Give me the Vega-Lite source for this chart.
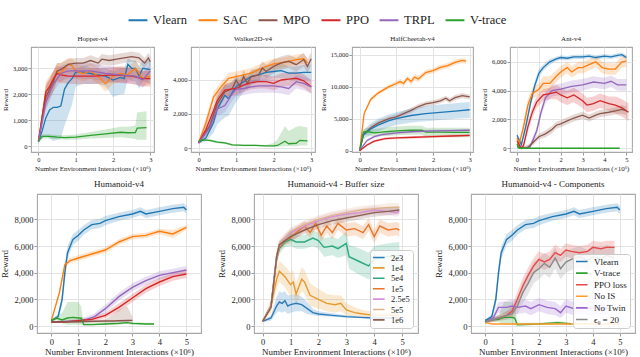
{
  "$schema": "https://vega.github.io/schema/vega-lite/v6.json",
  "padding": {"left": 0, "top": 12, "right": 2, "bottom": 0},
  "background": "white",
  "config": {
    "font": "Liberation Serif",
    "view": {"stroke": "#a8a8a8", "strokeWidth": 1.1},
    "axis": {"domain": false, "tickColor": "#999999", "tickSize": 3, "gridColor": "#e3e3e3", "gridWidth": 1, "labelColor": "#222222", "titleColor": "#222222", "titleFontWeight": "normal", "labelFont": "Liberation Serif", "titleFont": "Liberation Serif", "labelPadding": 1},
    "title": {"fontWeight": "normal", "font": "Liberation Serif", "color": "#222222", "offset": 5},
    "legend": {"labelFont": "Liberation Serif", "labelColor": "#222222"}
  },
  "datasets": {
    "legendrows": [{"s":"Vlearn","x":0,"y":0},{"s":"SAC","x":0,"y":0},{"s":"MPO","x":0,"y":0},{"s":"PPO","x":0,"y":0},{"s":"TRPL","x":0,"y":0},{"s":"V-trace","x":0,"y":0}],
    "hopper": [
      {"s":"Vlearn","x":0,"y":170,"l":120,"h":220},{"s":"Vlearn","x":0.1,"y":600,"l":300,"h":900},{"s":"Vlearn","x":0.2,"y":1100,"l":400,"h":1800},{"s":"Vlearn","x":0.3,"y":1400,"l":300,"h":2300},{"s":"Vlearn","x":0.4,"y":1500,"l":200,"h":2500},{"s":"Vlearn","x":0.5,"y":1500,"l":250,"h":2600},{"s":"Vlearn","x":0.6,"y":1550,"l":300,"h":2700},{"s":"Vlearn","x":0.7,"y":2200,"l":800,"h":2800},{"s":"Vlearn","x":0.8,"y":2450,"l":1200,"h":2900},{"s":"Vlearn","x":0.9,"y":2600,"l":1600,"h":2950},{"s":"Vlearn","x":1.0,"y":2850,"l":2300,"h":3000},{"s":"Vlearn","x":1.2,"y":2850,"l":2400,"h":3100},{"s":"Vlearn","x":1.4,"y":2800,"l":2400,"h":3050},{"s":"Vlearn","x":1.6,"y":2750,"l":2400,"h":3000},{"s":"Vlearn","x":1.8,"y":2700,"l":2300,"h":3000},{"s":"Vlearn","x":2.0,"y":2550,"l":1900,"h":2900},{"s":"Vlearn","x":2.2,"y":2650,"l":2000,"h":3000},{"s":"Vlearn","x":2.3,"y":2600,"l":2000,"h":3000},{"s":"Vlearn","x":2.4,"y":3150,"l":2600,"h":3400},{"s":"Vlearn","x":2.5,"y":3000,"l":2500,"h":3300},{"s":"Vlearn","x":2.6,"y":3000,"l":2500,"h":3300},{"s":"Vlearn","x":2.7,"y":2700,"l":2200,"h":3100},{"s":"Vlearn","x":2.8,"y":3000,"l":2500,"h":3300},{"s":"Vlearn","x":3.0,"y":2950,"l":2400,"h":3300},
      {"s":"SAC","x":0,"y":200,"l":150,"h":250},{"s":"SAC","x":0.2,"y":2100,"l":1700,"h":2500},{"s":"SAC","x":0.4,"y":2500,"l":2100,"h":2900},{"s":"SAC","x":0.5,"y":2900,"l":2500,"h":3200},{"s":"SAC","x":0.6,"y":2800,"l":2400,"h":3200},{"s":"SAC","x":0.7,"y":3000,"l":2600,"h":3300},{"s":"SAC","x":0.8,"y":3150,"l":2800,"h":3400},{"s":"SAC","x":0.9,"y":3100,"l":2800,"h":3400},{"s":"SAC","x":1.0,"y":2900,"l":2600,"h":3200},{"s":"SAC","x":1.2,"y":2800,"l":2500,"h":3100},{"s":"SAC","x":1.4,"y":2900,"l":2600,"h":3200},{"s":"SAC","x":1.6,"y":2700,"l":2400,"h":3000},{"s":"SAC","x":1.8,"y":2400,"l":2100,"h":2800},{"s":"SAC","x":2.0,"y":2700,"l":2400,"h":3000},{"s":"SAC","x":2.2,"y":2800,"l":2500,"h":3100},{"s":"SAC","x":2.4,"y":2750,"l":2450,"h":3050},{"s":"SAC","x":2.6,"y":3000,"l":2700,"h":3300},{"s":"SAC","x":2.8,"y":2600,"l":2300,"h":2900},{"s":"SAC","x":3.0,"y":2700,"l":2400,"h":3000},
      {"s":"MPO","x":0,"y":200,"l":150,"h":250},{"s":"MPO","x":0.2,"y":1900,"l":1500,"h":2300},{"s":"MPO","x":0.4,"y":2500,"l":2100,"h":2900},{"s":"MPO","x":0.5,"y":2900,"l":2600,"h":3200},{"s":"MPO","x":0.6,"y":2950,"l":2700,"h":3200},{"s":"MPO","x":0.8,"y":3150,"l":2950,"h":3350},{"s":"MPO","x":1.0,"y":3200,"l":3000,"h":3400},{"s":"MPO","x":1.2,"y":3200,"l":3000,"h":3400},{"s":"MPO","x":1.4,"y":3300,"l":3100,"h":3500},{"s":"MPO","x":1.6,"y":3200,"l":3000,"h":3400},{"s":"MPO","x":1.7,"y":3350,"l":3150,"h":3550},{"s":"MPO","x":1.9,"y":3300,"l":3100,"h":3500},{"s":"MPO","x":2.1,"y":3350,"l":3150,"h":3550},{"s":"MPO","x":2.3,"y":3400,"l":3200,"h":3600},{"s":"MPO","x":2.5,"y":3450,"l":3250,"h":3650},{"s":"MPO","x":2.7,"y":3400,"l":3200,"h":3600},{"s":"MPO","x":2.85,"y":3200,"l":3000,"h":3400},{"s":"MPO","x":2.95,"y":3400,"l":3200,"h":3600},{"s":"MPO","x":3.0,"y":3250,"l":3050,"h":3450},
      {"s":"PPO","x":0,"y":200,"l":150,"h":250},{"s":"PPO","x":0.2,"y":2100,"l":1800,"h":2400},{"s":"PPO","x":0.3,"y":2300,"l":2000,"h":2600},{"s":"PPO","x":0.4,"y":2600,"l":2300,"h":2900},{"s":"PPO","x":0.5,"y":2800,"l":2500,"h":3100},{"s":"PPO","x":0.6,"y":2750,"l":2450,"h":3050},{"s":"PPO","x":0.8,"y":2700,"l":2400,"h":3000},{"s":"PPO","x":1.0,"y":2700,"l":2400,"h":3000},{"s":"PPO","x":1.5,"y":2700,"l":2400,"h":3000},{"s":"PPO","x":2.0,"y":2750,"l":2450,"h":3050},{"s":"PPO","x":2.5,"y":2700,"l":2400,"h":3000},{"s":"PPO","x":2.8,"y":2600,"l":2300,"h":2900},{"s":"PPO","x":3.0,"y":2600,"l":2300,"h":2900},
      {"s":"TRPL","x":0,"y":200,"l":150,"h":250},{"s":"TRPL","x":0.2,"y":1700,"l":1400,"h":2000},{"s":"TRPL","x":0.4,"y":2400,"l":2100,"h":2700},{"s":"TRPL","x":0.6,"y":2800,"l":2500,"h":3100},{"s":"TRPL","x":0.8,"y":2900,"l":2600,"h":3200},{"s":"TRPL","x":1.0,"y":2900,"l":2600,"h":3200},{"s":"TRPL","x":1.4,"y":2900,"l":2600,"h":3200},{"s":"TRPL","x":1.8,"y":2800,"l":2500,"h":3100},{"s":"TRPL","x":2.2,"y":2750,"l":2450,"h":3050},{"s":"TRPL","x":2.6,"y":2700,"l":2400,"h":3000},{"s":"TRPL","x":2.8,"y":2550,"l":2250,"h":2850},{"s":"TRPL","x":3.0,"y":2900,"l":2600,"h":3200},
      {"s":"V-trace","x":0,"y":200,"l":150,"h":250},{"s":"V-trace","x":0.1,"y":380,"l":300,"h":460},{"s":"V-trace","x":0.3,"y":380,"l":300,"h":460},{"s":"V-trace","x":0.5,"y":350,"l":270,"h":430},{"s":"V-trace","x":0.7,"y":330,"l":250,"h":420},{"s":"V-trace","x":1.0,"y":350,"l":250,"h":450},{"s":"V-trace","x":1.4,"y":420,"l":300,"h":550},{"s":"V-trace","x":1.8,"y":480,"l":320,"h":650},{"s":"V-trace","x":2.2,"y":540,"l":350,"h":750},{"s":"V-trace","x":2.4,"y":520,"l":320,"h":750},{"s":"V-trace","x":2.6,"y":530,"l":280,"h":800},{"s":"V-trace","x":2.65,"y":700,"l":250,"h":1300},{"s":"V-trace","x":2.9,"y":720,"l":250,"h":1350}
    ],
    "walker": [
      {"s":"Vlearn","x":0,"y":300,"l":250,"h":350},{"s":"Vlearn","x":0.2,"y":600,"l":400,"h":800},{"s":"Vlearn","x":0.4,"y":1500,"l":900,"h":2200},{"s":"Vlearn","x":0.5,"y":2300,"l":1400,"h":3000},{"s":"Vlearn","x":0.6,"y":2700,"l":1600,"h":3400},{"s":"Vlearn","x":0.7,"y":3100,"l":1800,"h":3700},{"s":"Vlearn","x":0.8,"y":2900,"l":1900,"h":3700},{"s":"Vlearn","x":1.0,"y":3600,"l":2700,"h":4100},{"s":"Vlearn","x":1.2,"y":3900,"l":3300,"h":4300},{"s":"Vlearn","x":1.4,"y":4200,"l":3700,"h":4500},{"s":"Vlearn","x":1.6,"y":4300,"l":3900,"h":4700},{"s":"Vlearn","x":1.8,"y":4450,"l":4000,"h":4800},{"s":"Vlearn","x":2.0,"y":4500,"l":4100,"h":4900},{"s":"Vlearn","x":2.2,"y":4550,"l":4100,"h":5000},{"s":"Vlearn","x":2.4,"y":4400,"l":4000,"h":4800},{"s":"Vlearn","x":2.6,"y":4400,"l":4000,"h":4800},{"s":"Vlearn","x":2.8,"y":4450,"l":4000,"h":4900},{"s":"Vlearn","x":3.0,"y":4450,"l":4000,"h":4900},
      {"s":"SAC","x":0,"y":300,"l":250,"h":350},{"s":"SAC","x":0.2,"y":1500,"l":1200,"h":1800},{"s":"SAC","x":0.4,"y":3000,"l":2700,"h":3300},{"s":"SAC","x":0.6,"y":3600,"l":3300,"h":3900},{"s":"SAC","x":0.8,"y":4100,"l":3800,"h":4400},{"s":"SAC","x":1.0,"y":4200,"l":3900,"h":4500},{"s":"SAC","x":1.2,"y":4300,"l":4000,"h":4600},{"s":"SAC","x":1.4,"y":4400,"l":4100,"h":4700},{"s":"SAC","x":1.6,"y":4600,"l":4300,"h":4900},{"s":"SAC","x":1.8,"y":4800,"l":4500,"h":5100},{"s":"SAC","x":2.0,"y":4950,"l":4650,"h":5250},{"s":"SAC","x":2.2,"y":5000,"l":4700,"h":5300},{"s":"SAC","x":2.4,"y":5100,"l":4800,"h":5400},{"s":"SAC","x":2.6,"y":5200,"l":4900,"h":5500},{"s":"SAC","x":2.8,"y":5250,"l":4950,"h":5550},{"s":"SAC","x":2.9,"y":5000,"l":4700,"h":5300},
      {"s":"MPO","x":0,"y":300,"l":250,"h":350},{"s":"MPO","x":0.3,"y":1300,"l":1000,"h":1600},{"s":"MPO","x":0.5,"y":2600,"l":2200,"h":3000},{"s":"MPO","x":0.7,"y":3300,"l":2900,"h":3700},{"s":"MPO","x":0.9,"y":3500,"l":3100,"h":3900},{"s":"MPO","x":1.0,"y":4000,"l":3600,"h":4400},{"s":"MPO","x":1.1,"y":3600,"l":3200,"h":4000},{"s":"MPO","x":1.2,"y":4200,"l":3800,"h":4600},{"s":"MPO","x":1.3,"y":3800,"l":3400,"h":4200},{"s":"MPO","x":1.4,"y":4200,"l":3800,"h":4600},{"s":"MPO","x":1.6,"y":4300,"l":3900,"h":4700},{"s":"MPO","x":1.7,"y":4700,"l":4300,"h":5100},{"s":"MPO","x":1.8,"y":4500,"l":4100,"h":4900},{"s":"MPO","x":2.0,"y":4800,"l":4400,"h":5200},{"s":"MPO","x":2.2,"y":5000,"l":4600,"h":5400},{"s":"MPO","x":2.4,"y":5100,"l":4700,"h":5500},{"s":"MPO","x":2.6,"y":4900,"l":4500,"h":5300},{"s":"MPO","x":2.8,"y":5200,"l":4800,"h":5600},{"s":"MPO","x":2.9,"y":4800,"l":4400,"h":5200},{"s":"MPO","x":3.0,"y":5250,"l":4850,"h":5650},
      {"s":"PPO","x":0,"y":300,"l":250,"h":350},{"s":"PPO","x":0.2,"y":1100,"l":800,"h":1400},{"s":"PPO","x":0.4,"y":2200,"l":1800,"h":2600},{"s":"PPO","x":0.5,"y":2800,"l":2400,"h":3200},{"s":"PPO","x":0.7,"y":3400,"l":3000,"h":3800},{"s":"PPO","x":1.0,"y":3500,"l":3100,"h":3900},{"s":"PPO","x":1.2,"y":3700,"l":3300,"h":4100},{"s":"PPO","x":1.4,"y":3850,"l":3450,"h":4250},{"s":"PPO","x":1.6,"y":3900,"l":3500,"h":4300},{"s":"PPO","x":1.8,"y":3900,"l":3500,"h":4300},{"s":"PPO","x":2.0,"y":3800,"l":3400,"h":4200},{"s":"PPO","x":2.2,"y":4000,"l":3600,"h":4400},{"s":"PPO","x":2.4,"y":4050,"l":3650,"h":4450},{"s":"PPO","x":2.6,"y":4100,"l":3700,"h":4500},{"s":"PPO","x":2.8,"y":3950,"l":3550,"h":4350},{"s":"PPO","x":3.0,"y":3600,"l":3200,"h":4000},
      {"s":"TRPL","x":0,"y":300,"l":250,"h":350},{"s":"TRPL","x":0.3,"y":1200,"l":900,"h":1500},{"s":"TRPL","x":0.5,"y":2300,"l":1900,"h":2700},{"s":"TRPL","x":0.7,"y":2500,"l":2100,"h":2900},{"s":"TRPL","x":0.9,"y":3200,"l":2800,"h":3600},{"s":"TRPL","x":1.0,"y":3450,"l":3050,"h":3850},{"s":"TRPL","x":1.2,"y":3500,"l":3100,"h":3900},{"s":"TRPL","x":1.4,"y":3600,"l":3200,"h":4000},{"s":"TRPL","x":1.6,"y":3650,"l":3250,"h":4050},{"s":"TRPL","x":1.8,"y":3650,"l":3250,"h":4050},{"s":"TRPL","x":2.0,"y":3650,"l":3250,"h":4050},{"s":"TRPL","x":2.2,"y":3600,"l":3200,"h":4000},{"s":"TRPL","x":2.4,"y":3500,"l":3100,"h":3900},{"s":"TRPL","x":2.6,"y":3900,"l":3500,"h":4300},{"s":"TRPL","x":2.8,"y":3800,"l":3400,"h":4200},{"s":"TRPL","x":3.0,"y":3600,"l":3200,"h":4000},
      {"s":"V-trace","x":0,"y":400,"l":350,"h":450},{"s":"V-trace","x":0.1,"y":480,"l":430,"h":530},{"s":"V-trace","x":0.3,"y":450,"l":380,"h":520},{"s":"V-trace","x":0.5,"y":350,"l":280,"h":420},{"s":"V-trace","x":0.7,"y":300,"l":230,"h":370},{"s":"V-trace","x":0.9,"y":180,"l":120,"h":240},{"s":"V-trace","x":1.2,"y":150,"l":100,"h":200},{"s":"V-trace","x":1.5,"y":150,"l":100,"h":200},{"s":"V-trace","x":1.8,"y":120,"l":70,"h":170},{"s":"V-trace","x":2.0,"y":130,"l":70,"h":300},{"s":"V-trace","x":2.1,"y":150,"l":80,"h":500},{"s":"V-trace","x":2.3,"y":400,"l":100,"h":1300},{"s":"V-trace","x":2.4,"y":250,"l":100,"h":1000},{"s":"V-trace","x":2.6,"y":280,"l":100,"h":1250},{"s":"V-trace","x":2.7,"y":450,"l":150,"h":1300},{"s":"V-trace","x":2.9,"y":420,"l":150,"h":1200}
    ],
    "cheetah": [
      {"s":"SAC","x":0,"y":0,"l":0,"h":0},{"s":"SAC","x":0.12,"y":5800,"l":5500,"h":6100},{"s":"SAC","x":0.3,"y":8000,"l":7700,"h":8300},{"s":"SAC","x":0.5,"y":9000,"l":8700,"h":9300},{"s":"SAC","x":0.8,"y":10000,"l":9700,"h":10300},{"s":"SAC","x":1.0,"y":10500,"l":10100,"h":10900},{"s":"SAC","x":1.1,"y":10800,"l":10400,"h":11200},{"s":"SAC","x":1.2,"y":10500,"l":10000,"h":11000},{"s":"SAC","x":1.3,"y":11300,"l":10900,"h":11700},{"s":"SAC","x":1.4,"y":10800,"l":10300,"h":11300},{"s":"SAC","x":1.5,"y":11500,"l":11000,"h":12000},{"s":"SAC","x":1.6,"y":11200,"l":10700,"h":11700},{"s":"SAC","x":1.8,"y":12200,"l":11800,"h":12600},{"s":"SAC","x":2.0,"y":12500,"l":12100,"h":12900},{"s":"SAC","x":2.2,"y":13000,"l":12600,"h":13400},{"s":"SAC","x":2.4,"y":13300,"l":12900,"h":13700},{"s":"SAC","x":2.6,"y":13800,"l":13400,"h":14200},{"s":"SAC","x":2.8,"y":14100,"l":13700,"h":14500},{"s":"SAC","x":2.9,"y":14000,"l":13600,"h":14400},
      {"s":"MPO","x":0,"y":0,"l":0,"h":0},{"s":"MPO","x":0.1,"y":2500,"l":2200,"h":2800},{"s":"MPO","x":0.3,"y":3600,"l":3200,"h":4000},{"s":"MPO","x":0.5,"y":4300,"l":3900,"h":4700},{"s":"MPO","x":0.8,"y":5000,"l":4600,"h":5400},{"s":"MPO","x":1.0,"y":5300,"l":4900,"h":5700},{"s":"MPO","x":1.2,"y":5800,"l":5400,"h":6200},{"s":"MPO","x":1.4,"y":6300,"l":5900,"h":6700},{"s":"MPO","x":1.6,"y":6900,"l":6500,"h":7300},{"s":"MPO","x":1.8,"y":7300,"l":6900,"h":7700},{"s":"MPO","x":2.0,"y":7500,"l":7100,"h":7900},{"s":"MPO","x":2.2,"y":7800,"l":7400,"h":8200},{"s":"MPO","x":2.35,"y":8200,"l":7800,"h":8600},{"s":"MPO","x":2.45,"y":7800,"l":7400,"h":8200},{"s":"MPO","x":2.6,"y":8300,"l":7900,"h":8700},{"s":"MPO","x":2.8,"y":8600,"l":8200,"h":9000},{"s":"MPO","x":3.0,"y":8400,"l":8000,"h":8800},
      {"s":"Vlearn","x":0,"y":0,"l":0,"h":0},{"s":"Vlearn","x":0.1,"y":2500,"l":1800,"h":3200},{"s":"Vlearn","x":0.3,"y":3400,"l":2500,"h":4300},{"s":"Vlearn","x":0.5,"y":4000,"l":3000,"h":5000},{"s":"Vlearn","x":0.8,"y":4700,"l":3700,"h":5700},{"s":"Vlearn","x":1.0,"y":5000,"l":4000,"h":6000},{"s":"Vlearn","x":1.4,"y":5500,"l":4400,"h":6600},{"s":"Vlearn","x":1.8,"y":5800,"l":4600,"h":7000},{"s":"Vlearn","x":2.2,"y":6000,"l":4800,"h":7200},{"s":"Vlearn","x":2.6,"y":6200,"l":5000,"h":7400},{"s":"Vlearn","x":3.0,"y":6400,"l":5100,"h":7600},
      {"s":"V-trace","x":0,"y":0,"l":0,"h":0},{"s":"V-trace","x":0.1,"y":2900,"l":2400,"h":3400},{"s":"V-trace","x":0.2,"y":3000,"l":2400,"h":3600},{"s":"V-trace","x":0.4,"y":2800,"l":2200,"h":3400},{"s":"V-trace","x":0.6,"y":2900,"l":2300,"h":3500},{"s":"V-trace","x":0.8,"y":3000,"l":2300,"h":3700},{"s":"V-trace","x":1.0,"y":3100,"l":2400,"h":3800},{"s":"V-trace","x":1.4,"y":3200,"l":2500,"h":3900},{"s":"V-trace","x":1.7,"y":3200,"l":2500,"h":3900},{"s":"V-trace","x":1.8,"y":2900,"l":2200,"h":3600},{"s":"V-trace","x":2.2,"y":2900,"l":2200,"h":3600},{"s":"V-trace","x":2.6,"y":2850,"l":2100,"h":3600},{"s":"V-trace","x":3.0,"y":2850,"l":2100,"h":3600},
      {"s":"TRPL","x":0,"y":0,"l":0,"h":0},{"s":"TRPL","x":0.2,"y":1600,"l":1400,"h":1800},{"s":"TRPL","x":0.4,"y":2200,"l":2000,"h":2400},{"s":"TRPL","x":0.6,"y":2500,"l":2300,"h":2700},{"s":"TRPL","x":1.0,"y":2800,"l":2600,"h":3000},{"s":"TRPL","x":1.5,"y":3000,"l":2800,"h":3200},{"s":"TRPL","x":2.0,"y":3100,"l":2900,"h":3300},{"s":"TRPL","x":2.5,"y":3150,"l":2950,"h":3350},{"s":"TRPL","x":3.0,"y":3200,"l":3000,"h":3400},
      {"s":"PPO","x":0,"y":0,"l":0,"h":0},{"s":"PPO","x":0.2,"y":900,"l":700,"h":1100},{"s":"PPO","x":0.4,"y":1500,"l":1300,"h":1700},{"s":"PPO","x":0.7,"y":1900,"l":1700,"h":2100},{"s":"PPO","x":1.0,"y":2000,"l":1800,"h":2200},{"s":"PPO","x":1.5,"y":2100,"l":1900,"h":2300},{"s":"PPO","x":2.0,"y":2200,"l":2000,"h":2400},{"s":"PPO","x":2.5,"y":2300,"l":2100,"h":2500},{"s":"PPO","x":3.0,"y":2400,"l":2200,"h":2600}
    ],
    "ant": [
      {"s":"Vlearn","x":0,"y":900,"l":500,"h":1000},{"s":"Vlearn","x":0.2,"y":250,"l":100,"h":500},{"s":"Vlearn","x":0.4,"y":1500,"l":1200,"h":1800},{"s":"Vlearn","x":0.6,"y":3000,"l":2700,"h":3300},{"s":"Vlearn","x":0.8,"y":4300,"l":4000,"h":4600},{"s":"Vlearn","x":1.0,"y":5200,"l":4900,"h":5500},{"s":"Vlearn","x":1.2,"y":5600,"l":5400,"h":5800},{"s":"Vlearn","x":1.5,"y":6000,"l":5800,"h":6200},{"s":"Vlearn","x":1.8,"y":6200,"l":6050,"h":6350},{"s":"Vlearn","x":2.0,"y":6300,"l":6150,"h":6450},{"s":"Vlearn","x":2.3,"y":6250,"l":6100,"h":6400},{"s":"Vlearn","x":2.6,"y":6350,"l":6200,"h":6500},{"s":"Vlearn","x":3.0,"y":6350,"l":6200,"h":6500},{"s":"Vlearn","x":3.3,"y":6400,"l":6250,"h":6550},{"s":"Vlearn","x":3.6,"y":6300,"l":6150,"h":6450},{"s":"Vlearn","x":4.0,"y":6400,"l":6250,"h":6550},{"s":"Vlearn","x":4.3,"y":6350,"l":6200,"h":6500},{"s":"Vlearn","x":4.6,"y":6450,"l":6300,"h":6600},{"s":"Vlearn","x":4.8,"y":6500,"l":6350,"h":6650},{"s":"Vlearn","x":5.0,"y":6300,"l":6150,"h":6450},
      {"s":"SAC","x":0,"y":700,"l":400,"h":1000},{"s":"SAC","x":0.1,"y":300,"l":100,"h":500},{"s":"SAC","x":0.3,"y":1500,"l":1100,"h":1900},{"s":"SAC","x":0.5,"y":3000,"l":2600,"h":3400},{"s":"SAC","x":0.7,"y":3800,"l":3400,"h":4200},{"s":"SAC","x":1.0,"y":4100,"l":3700,"h":4500},{"s":"SAC","x":1.2,"y":4500,"l":4000,"h":5000},{"s":"SAC","x":1.5,"y":4500,"l":4000,"h":5000},{"s":"SAC","x":1.8,"y":5000,"l":4600,"h":5400},{"s":"SAC","x":2.0,"y":5300,"l":4900,"h":5700},{"s":"SAC","x":2.3,"y":5600,"l":5200,"h":6000},{"s":"SAC","x":2.5,"y":5300,"l":4900,"h":5700},{"s":"SAC","x":2.8,"y":5600,"l":5200,"h":6000},{"s":"SAC","x":3.0,"y":5600,"l":5200,"h":6000},{"s":"SAC","x":3.3,"y":5800,"l":5400,"h":6200},{"s":"SAC","x":3.6,"y":6000,"l":5600,"h":6400},{"s":"SAC","x":3.9,"y":5600,"l":5200,"h":6000},{"s":"SAC","x":4.2,"y":5500,"l":5100,"h":5900},{"s":"SAC","x":4.5,"y":5500,"l":5100,"h":5900},{"s":"SAC","x":4.8,"y":6000,"l":5600,"h":6400},{"s":"SAC","x":5.0,"y":6050,"l":5650,"h":6450},
      {"s":"TRPL","x":0,"y":100,"l":0,"h":200},{"s":"TRPL","x":0.3,"y":0,"l":0,"h":100},{"s":"TRPL","x":0.6,"y":100,"l":0,"h":300},{"s":"TRPL","x":0.9,"y":1200,"l":900,"h":1500},{"s":"TRPL","x":1.1,"y":2500,"l":2200,"h":2800},{"s":"TRPL","x":1.3,"y":3500,"l":3100,"h":3900},{"s":"TRPL","x":1.6,"y":4000,"l":3600,"h":4400},{"s":"TRPL","x":2.0,"y":4100,"l":3700,"h":4500},{"s":"TRPL","x":2.5,"y":4300,"l":3900,"h":4700},{"s":"TRPL","x":3.0,"y":4400,"l":4000,"h":4800},{"s":"TRPL","x":3.5,"y":4600,"l":4200,"h":5000},{"s":"TRPL","x":4.0,"y":4500,"l":4100,"h":4900},{"s":"TRPL","x":4.3,"y":4650,"l":4250,"h":5050},{"s":"TRPL","x":4.6,"y":4400,"l":4000,"h":4800},{"s":"TRPL","x":5.0,"y":4400,"l":4000,"h":4800},
      {"s":"PPO","x":0,"y":500,"l":200,"h":800},{"s":"PPO","x":0.2,"y":0,"l":0,"h":200},{"s":"PPO","x":0.3,"y":200,"l":0,"h":500},{"s":"PPO","x":0.5,"y":1500,"l":1100,"h":1900},{"s":"PPO","x":0.7,"y":2500,"l":2100,"h":2900},{"s":"PPO","x":0.9,"y":3200,"l":2800,"h":3600},{"s":"PPO","x":1.2,"y":3700,"l":3300,"h":4100},{"s":"PPO","x":1.5,"y":3800,"l":3400,"h":4200},{"s":"PPO","x":1.8,"y":3900,"l":3400,"h":4400},{"s":"PPO","x":2.0,"y":3700,"l":3200,"h":4200},{"s":"PPO","x":2.3,"y":3500,"l":3000,"h":4000},{"s":"PPO","x":2.6,"y":3700,"l":3200,"h":4200},{"s":"PPO","x":3.0,"y":3300,"l":2800,"h":3800},{"s":"PPO","x":3.2,"y":3000,"l":2500,"h":3500},{"s":"PPO","x":3.5,"y":3100,"l":2600,"h":3600},{"s":"PPO","x":3.8,"y":3300,"l":2800,"h":3800},{"s":"PPO","x":4.2,"y":3100,"l":2600,"h":3600},{"s":"PPO","x":4.5,"y":3000,"l":2400,"h":3600},{"s":"PPO","x":4.8,"y":2800,"l":2200,"h":3400},{"s":"PPO","x":5.1,"y":2500,"l":1900,"h":3100},
      {"s":"MPO","x":0,"y":200,"l":0,"h":400},{"s":"MPO","x":0.2,"y":0,"l":0,"h":150},{"s":"MPO","x":0.5,"y":50,"l":0,"h":200},{"s":"MPO","x":0.8,"y":500,"l":300,"h":700},{"s":"MPO","x":1.0,"y":800,"l":600,"h":1000},{"s":"MPO","x":1.3,"y":1000,"l":750,"h":1250},{"s":"MPO","x":1.6,"y":1300,"l":1050,"h":1550},{"s":"MPO","x":1.8,"y":1600,"l":1350,"h":1850},{"s":"MPO","x":2.0,"y":1700,"l":1450,"h":1950},{"s":"MPO","x":2.3,"y":1900,"l":1650,"h":2150},{"s":"MPO","x":2.6,"y":2100,"l":1850,"h":2350},{"s":"MPO","x":2.8,"y":2200,"l":1950,"h":2450},{"s":"MPO","x":3.0,"y":2300,"l":2050,"h":2550},{"s":"MPO","x":3.3,"y":2100,"l":1850,"h":2350},{"s":"MPO","x":3.6,"y":2300,"l":2050,"h":2550},{"s":"MPO","x":3.8,"y":2400,"l":2150,"h":2650},{"s":"MPO","x":4.2,"y":2500,"l":2250,"h":2750},{"s":"MPO","x":4.5,"y":2600,"l":2350,"h":2850},{"s":"MPO","x":4.8,"y":2700,"l":2400,"h":3000},{"s":"MPO","x":5.0,"y":2600,"l":2300,"h":2900},
      {"s":"V-trace","x":0,"y":300,"l":100,"h":500},{"s":"V-trace","x":0.1,"y":0,"l":0,"h":50},{"s":"V-trace","x":0.5,"y":0,"l":0,"h":30},{"s":"V-trace","x":1.0,"y":0,"l":0,"h":30},{"s":"V-trace","x":2.0,"y":0,"l":0,"h":30},{"s":"V-trace","x":3.0,"y":0,"l":0,"h":30},{"s":"V-trace","x":4.0,"y":0,"l":0,"h":30},{"s":"V-trace","x":4.7,"y":0,"l":0,"h":30}
    ],
    "humanoid": [
      {"s":"Vlearn","x":0,"y":400,"l":350,"h":450},{"s":"Vlearn","x":0.25,"y":700,"l":500,"h":900},{"s":"Vlearn","x":0.4,"y":2000,"l":1500,"h":2500},{"s":"Vlearn","x":0.5,"y":4000,"l":3400,"h":4600},{"s":"Vlearn","x":0.6,"y":5500,"l":5000,"h":6000},{"s":"Vlearn","x":0.8,"y":6500,"l":6100,"h":6900},{"s":"Vlearn","x":1.0,"y":6800,"l":6400,"h":7200},{"s":"Vlearn","x":1.2,"y":7200,"l":6850,"h":7550},{"s":"Vlearn","x":1.5,"y":7600,"l":7250,"h":7950},{"s":"Vlearn","x":1.8,"y":7700,"l":7350,"h":8050},{"s":"Vlearn","x":2.0,"y":7900,"l":7550,"h":8250},{"s":"Vlearn","x":2.5,"y":8200,"l":7900,"h":8500},{"s":"Vlearn","x":3.0,"y":8400,"l":8100,"h":8700},{"s":"Vlearn","x":3.3,"y":8600,"l":8300,"h":8900},{"s":"Vlearn","x":3.5,"y":8400,"l":8100,"h":8700},{"s":"Vlearn","x":4.0,"y":8600,"l":8300,"h":8900},{"s":"Vlearn","x":4.5,"y":8800,"l":8500,"h":9100},{"s":"Vlearn","x":4.9,"y":8900,"l":8600,"h":9200},{"s":"Vlearn","x":5.0,"y":8700,"l":8400,"h":9000},
      {"s":"SAC","x":0,"y":400,"l":350,"h":450},{"s":"SAC","x":0.3,"y":2500,"l":2300,"h":2700},{"s":"SAC","x":0.5,"y":4600,"l":4400,"h":4800},{"s":"SAC","x":0.7,"y":4900,"l":4700,"h":5100},{"s":"SAC","x":1.0,"y":5100,"l":4900,"h":5300},{"s":"SAC","x":1.5,"y":5400,"l":5200,"h":5600},{"s":"SAC","x":2.0,"y":5700,"l":5500,"h":5900},{"s":"SAC","x":2.5,"y":6300,"l":6100,"h":6500},{"s":"SAC","x":3.0,"y":6700,"l":6500,"h":6900},{"s":"SAC","x":3.5,"y":6800,"l":6600,"h":7000},{"s":"SAC","x":4.0,"y":7100,"l":6900,"h":7300},{"s":"SAC","x":4.5,"y":6900,"l":6600,"h":7200},{"s":"SAC","x":5.0,"y":7400,"l":7200,"h":7600},
      {"s":"TRPL","x":0,"y":300,"l":250,"h":350},{"s":"TRPL","x":0.5,"y":350,"l":300,"h":450},{"s":"TRPL","x":1.0,"y":400,"l":300,"h":550},{"s":"TRPL","x":1.3,"y":500,"l":350,"h":700},{"s":"TRPL","x":1.6,"y":700,"l":500,"h":950},{"s":"TRPL","x":2.0,"y":1300,"l":1000,"h":1600},{"s":"TRPL","x":2.5,"y":2200,"l":1900,"h":2500},{"s":"TRPL","x":3.0,"y":2900,"l":2600,"h":3200},{"s":"TRPL","x":3.5,"y":3400,"l":3100,"h":3700},{"s":"TRPL","x":4.0,"y":3800,"l":3500,"h":4100},{"s":"TRPL","x":4.5,"y":4000,"l":3700,"h":4300},{"s":"TRPL","x":5.0,"y":4200,"l":3900,"h":4500},
      {"s":"PPO","x":0,"y":300,"l":250,"h":350},{"s":"PPO","x":0.5,"y":300,"l":250,"h":350},{"s":"PPO","x":1.0,"y":400,"l":300,"h":500},{"s":"PPO","x":1.5,"y":500,"l":350,"h":650},{"s":"PPO","x":2.0,"y":800,"l":600,"h":1000},{"s":"PPO","x":2.5,"y":1400,"l":1100,"h":1700},{"s":"PPO","x":3.0,"y":2100,"l":1800,"h":2400},{"s":"PPO","x":3.5,"y":2800,"l":2500,"h":3100},{"s":"PPO","x":4.0,"y":3300,"l":3000,"h":3600},{"s":"PPO","x":4.5,"y":3700,"l":3400,"h":4000},{"s":"PPO","x":5.0,"y":3900,"l":3600,"h":4200},
      {"s":"MPO","x":0,"y":300,"l":250,"h":350},{"s":"MPO","x":1.0,"y":320,"l":250,"h":400},{"s":"MPO","x":2.0,"y":370,"l":250,"h":500},{"s":"MPO","x":2.3,"y":380,"l":250,"h":900},{"s":"MPO","x":2.5,"y":390,"l":250,"h":1200},{"s":"MPO","x":2.8,"y":410,"l":250,"h":1500},{"s":"MPO","x":3.0,"y":420,"l":250,"h":700},
      {"s":"V-trace","x":0,"y":400,"l":300,"h":500},{"s":"V-trace","x":0.2,"y":600,"l":450,"h":750},{"s":"V-trace","x":0.4,"y":450,"l":200,"h":1000},{"s":"V-trace","x":0.6,"y":600,"l":100,"h":1800},{"s":"V-trace","x":0.8,"y":650,"l":100,"h":1800},{"s":"V-trace","x":1.0,"y":600,"l":100,"h":1800},{"s":"V-trace","x":1.1,"y":600,"l":100,"h":1500},{"s":"V-trace","x":1.2,"y":100,"l":50,"h":250},{"s":"V-trace","x":1.5,"y":100,"l":50,"h":200},{"s":"V-trace","x":2.0,"y":150,"l":80,"h":250},{"s":"V-trace","x":2.5,"y":200,"l":100,"h":300},{"s":"V-trace","x":2.8,"y":250,"l":150,"h":350},{"s":"V-trace","x":3.0,"y":200,"l":100,"h":300},{"s":"V-trace","x":3.5,"y":150,"l":80,"h":250},{"s":"V-trace","x":3.8,"y":150,"l":80,"h":250}
    ],
    "buffer": [
      {"s":"2e3","x":0,"y":350,"l":300,"h":400},{"s":"2e3","x":0.3,"y":600,"l":400,"h":800},{"s":"2e3","x":0.5,"y":1500,"l":1000,"h":2200},{"s":"2e3","x":0.6,"y":1800,"l":1100,"h":2600},{"s":"2e3","x":0.7,"y":1700,"l":1000,"h":2500},{"s":"2e3","x":0.8,"y":1900,"l":1100,"h":2600},{"s":"2e3","x":0.9,"y":1500,"l":900,"h":2300},{"s":"2e3","x":1.0,"y":1600,"l":1000,"h":2300},{"s":"2e3","x":1.2,"y":1700,"l":1100,"h":2400},{"s":"2e3","x":1.4,"y":1600,"l":1100,"h":2200},{"s":"2e3","x":1.6,"y":1300,"l":900,"h":1800},{"s":"2e3","x":1.8,"y":1000,"l":800,"h":1300},{"s":"2e3","x":2.0,"y":900,"l":750,"h":1100},{"s":"2e3","x":2.5,"y":800,"l":700,"h":950},{"s":"2e3","x":3.0,"y":700,"l":620,"h":800},{"s":"2e3","x":3.5,"y":650,"l":580,"h":720},{"s":"2e3","x":4.0,"y":600,"l":540,"h":680},{"s":"2e3","x":4.5,"y":600,"l":540,"h":660},{"s":"2e3","x":4.9,"y":600,"l":540,"h":660},
      {"s":"1e4","x":0,"y":350,"l":300,"h":400},{"s":"1e4","x":0.3,"y":1500,"l":1000,"h":2000},{"s":"1e4","x":0.5,"y":3500,"l":2800,"h":4300},{"s":"1e4","x":0.6,"y":4100,"l":3300,"h":4900},{"s":"1e4","x":0.8,"y":3700,"l":2900,"h":4500},{"s":"1e4","x":1.0,"y":3100,"l":2200,"h":4000},{"s":"1e4","x":1.1,"y":3300,"l":2400,"h":4200},{"s":"1e4","x":1.2,"y":2400,"l":1600,"h":3200},{"s":"1e4","x":1.4,"y":3500,"l":2600,"h":4400},{"s":"1e4","x":1.5,"y":3300,"l":2400,"h":4200},{"s":"1e4","x":1.7,"y":2300,"l":1500,"h":3200},{"s":"1e4","x":2.0,"y":2000,"l":1300,"h":2800},{"s":"1e4","x":2.3,"y":1700,"l":1100,"h":2400},{"s":"1e4","x":2.6,"y":1600,"l":1000,"h":2300},{"s":"1e4","x":2.8,"y":1700,"l":1100,"h":2300},{"s":"1e4","x":3.0,"y":1200,"l":800,"h":1700},{"s":"1e4","x":3.3,"y":1000,"l":700,"h":1400},{"s":"1e4","x":3.6,"y":900,"l":650,"h":1200},{"s":"1e4","x":4.0,"y":800,"l":600,"h":1050},{"s":"1e4","x":4.5,"y":800,"l":600,"h":1000},{"s":"1e4","x":4.9,"y":800,"l":600,"h":1000},
      {"s":"5e4","x":0,"y":350,"l":300,"h":400},{"s":"5e4","x":0.3,"y":1500,"l":1300,"h":1700},{"s":"5e4","x":0.5,"y":5000,"l":4600,"h":5400},{"s":"5e4","x":0.6,"y":5800,"l":5400,"h":6200},{"s":"5e4","x":0.8,"y":6300,"l":5900,"h":6700},{"s":"5e4","x":1.0,"y":6500,"l":6000,"h":7000},{"s":"5e4","x":1.2,"y":6300,"l":5800,"h":6800},{"s":"5e4","x":1.5,"y":6300,"l":5800,"h":6800},{"s":"5e4","x":1.8,"y":6600,"l":6000,"h":7200},{"s":"5e4","x":2.0,"y":6400,"l":5800,"h":7000},{"s":"5e4","x":2.2,"y":5900,"l":5200,"h":6600},{"s":"5e4","x":2.5,"y":6000,"l":5300,"h":6700},{"s":"5e4","x":2.7,"y":5800,"l":5100,"h":6500},{"s":"5e4","x":3.0,"y":6200,"l":5300,"h":7100},{"s":"5e4","x":3.1,"y":5200,"l":4300,"h":6100},{"s":"5e4","x":3.5,"y":4800,"l":3800,"h":5800},{"s":"5e4","x":3.8,"y":4500,"l":3500,"h":5500},{"s":"5e4","x":4.0,"y":5000,"l":4000,"h":6000},{"s":"5e4","x":4.5,"y":5200,"l":4200,"h":6200},{"s":"5e4","x":4.9,"y":5300,"l":4300,"h":6300},
      {"s":"1e5","x":0,"y":350,"l":300,"h":400},{"s":"1e5","x":0.3,"y":1500,"l":1300,"h":1700},{"s":"1e5","x":0.5,"y":5000,"l":4700,"h":5300},{"s":"1e5","x":0.6,"y":5900,"l":5600,"h":6200},{"s":"1e5","x":0.8,"y":6400,"l":6100,"h":6700},{"s":"1e5","x":1.0,"y":6600,"l":6200,"h":7000},{"s":"1e5","x":1.2,"y":7000,"l":6600,"h":7400},{"s":"1e5","x":1.5,"y":7500,"l":7100,"h":7900},{"s":"1e5","x":1.7,"y":7000,"l":6600,"h":7400},{"s":"1e5","x":1.9,"y":7700,"l":7300,"h":8100},{"s":"1e5","x":2.1,"y":6800,"l":6300,"h":7300},{"s":"1e5","x":2.3,"y":7500,"l":7000,"h":8000},{"s":"1e5","x":2.5,"y":7000,"l":6500,"h":7500},{"s":"1e5","x":2.7,"y":7700,"l":7200,"h":8200},{"s":"1e5","x":3.0,"y":7200,"l":6700,"h":7700},{"s":"1e5","x":3.3,"y":7300,"l":6800,"h":7800},{"s":"1e5","x":3.6,"y":7000,"l":6500,"h":7500},{"s":"1e5","x":3.8,"y":7600,"l":7100,"h":8100},{"s":"1e5","x":4.0,"y":6700,"l":6200,"h":7200},{"s":"1e5","x":4.2,"y":7500,"l":7000,"h":8000},{"s":"1e5","x":4.5,"y":7200,"l":6700,"h":7700},{"s":"1e5","x":4.8,"y":7300,"l":6800,"h":7800},{"s":"1e5","x":4.9,"y":7200,"l":6700,"h":7700},
      {"s":"2.5e5","x":0,"y":350,"l":300,"h":400},{"s":"2.5e5","x":0.3,"y":1500,"l":1300,"h":1700},{"s":"2.5e5","x":0.5,"y":5200,"l":4900,"h":5500},{"s":"2.5e5","x":0.6,"y":6000,"l":5700,"h":6300},{"s":"2.5e5","x":0.8,"y":6600,"l":6300,"h":6900},{"s":"2.5e5","x":1.0,"y":7000,"l":6700,"h":7300},{"s":"2.5e5","x":1.5,"y":7500,"l":7200,"h":7800},{"s":"2.5e5","x":2.0,"y":7900,"l":7600,"h":8200},{"s":"2.5e5","x":2.5,"y":8200,"l":7900,"h":8500},{"s":"2.5e5","x":3.0,"y":8400,"l":8100,"h":8700},{"s":"2.5e5","x":3.5,"y":8500,"l":8200,"h":8800},{"s":"2.5e5","x":4.0,"y":8700,"l":8400,"h":9000},{"s":"2.5e5","x":4.5,"y":8600,"l":8300,"h":8900},{"s":"2.5e5","x":4.8,"y":8500,"l":8200,"h":8800},{"s":"2.5e5","x":4.9,"y":8600,"l":8300,"h":8900},
      {"s":"5e5","x":0,"y":350,"l":300,"h":400},{"s":"5e5","x":0.3,"y":1500,"l":1300,"h":1700},{"s":"5e5","x":0.5,"y":5300,"l":5000,"h":5600},{"s":"5e5","x":0.6,"y":6200,"l":5900,"h":6500},{"s":"5e5","x":1.0,"y":7100,"l":6800,"h":7400},{"s":"5e5","x":1.5,"y":7600,"l":7300,"h":7900},{"s":"5e5","x":2.0,"y":8000,"l":7700,"h":8300},{"s":"5e5","x":2.5,"y":8300,"l":8000,"h":8600},{"s":"5e5","x":3.0,"y":8500,"l":8200,"h":8800},{"s":"5e5","x":3.5,"y":8700,"l":8400,"h":9000},{"s":"5e5","x":4.0,"y":8800,"l":8500,"h":9100},{"s":"5e5","x":4.5,"y":8900,"l":8600,"h":9200},{"s":"5e5","x":4.9,"y":8900,"l":8600,"h":9200},
      {"s":"1e6","x":0,"y":350,"l":300,"h":400},{"s":"1e6","x":0.3,"y":1400,"l":1200,"h":1600},{"s":"1e6","x":0.5,"y":5200,"l":4900,"h":5500},{"s":"1e6","x":0.6,"y":6100,"l":5800,"h":6400},{"s":"1e6","x":1.0,"y":6700,"l":6400,"h":7000},{"s":"1e6","x":1.5,"y":7200,"l":6900,"h":7500},{"s":"1e6","x":2.0,"y":7600,"l":7300,"h":7900},{"s":"1e6","x":2.5,"y":7900,"l":7600,"h":8200},{"s":"1e6","x":3.0,"y":8100,"l":7800,"h":8400},{"s":"1e6","x":3.5,"y":8300,"l":8000,"h":8600},{"s":"1e6","x":4.0,"y":8500,"l":8200,"h":8800},{"s":"1e6","x":4.5,"y":8600,"l":8300,"h":8900},{"s":"1e6","x":4.9,"y":8700,"l":8400,"h":9000}
    ],
    "components": [
      {"s":"Vlearn","x":0,"y":400,"l":350,"h":450},{"s":"Vlearn","x":0.25,"y":700,"l":500,"h":900},{"s":"Vlearn","x":0.4,"y":2000,"l":1500,"h":2500},{"s":"Vlearn","x":0.5,"y":4000,"l":3400,"h":4600},{"s":"Vlearn","x":0.6,"y":5500,"l":5000,"h":6000},{"s":"Vlearn","x":0.8,"y":6500,"l":6100,"h":6900},{"s":"Vlearn","x":1.0,"y":6800,"l":6400,"h":7200},{"s":"Vlearn","x":1.2,"y":7200,"l":6850,"h":7550},{"s":"Vlearn","x":1.5,"y":7600,"l":7250,"h":7950},{"s":"Vlearn","x":1.8,"y":7700,"l":7350,"h":8050},{"s":"Vlearn","x":2.0,"y":7900,"l":7550,"h":8250},{"s":"Vlearn","x":2.5,"y":8200,"l":7900,"h":8500},{"s":"Vlearn","x":3.0,"y":8400,"l":8100,"h":8700},{"s":"Vlearn","x":3.3,"y":8600,"l":8300,"h":8900},{"s":"Vlearn","x":3.5,"y":8400,"l":8100,"h":8700},{"s":"Vlearn","x":4.0,"y":8600,"l":8300,"h":8900},{"s":"Vlearn","x":4.5,"y":8800,"l":8500,"h":9100},{"s":"Vlearn","x":4.9,"y":8900,"l":8600,"h":9200},{"s":"Vlearn","x":5.0,"y":8700,"l":8400,"h":9000},
      {"s":"V-trace","x":0,"y":400,"l":300,"h":500},{"s":"V-trace","x":0.5,"y":500,"l":300,"h":800},{"s":"V-trace","x":0.7,"y":650,"l":100,"h":1800},{"s":"V-trace","x":1.0,"y":650,"l":100,"h":1800},{"s":"V-trace","x":1.1,"y":600,"l":100,"h":1500},{"s":"V-trace","x":1.2,"y":100,"l":50,"h":250},{"s":"V-trace","x":2.0,"y":150,"l":80,"h":250},{"s":"V-trace","x":2.7,"y":250,"l":150,"h":350},{"s":"V-trace","x":3.0,"y":200,"l":100,"h":300},{"s":"V-trace","x":3.2,"y":150,"l":80,"h":250},
      {"s":"PPO loss","x":0,"y":300,"l":200,"h":400},{"s":"PPO loss","x":0.5,"y":600,"l":400,"h":800},{"s":"PPO loss","x":0.8,"y":800,"l":500,"h":1100},{"s":"PPO loss","x":1.0,"y":1100,"l":700,"h":1500},{"s":"PPO loss","x":1.2,"y":2000,"l":1400,"h":2600},{"s":"PPO loss","x":1.4,"y":3000,"l":2400,"h":3600},{"s":"PPO loss","x":1.6,"y":3800,"l":3200,"h":4400},{"s":"PPO loss","x":1.8,"y":4500,"l":3900,"h":5100},{"s":"PPO loss","x":2.0,"y":5000,"l":4400,"h":5600},{"s":"PPO loss","x":2.2,"y":4800,"l":4200,"h":5400},{"s":"PPO loss","x":2.4,"y":5000,"l":4400,"h":5600},{"s":"PPO loss","x":2.6,"y":5500,"l":4900,"h":6100},{"s":"PPO loss","x":2.8,"y":5300,"l":4800,"h":5800},{"s":"PPO loss","x":3.0,"y":5700,"l":5200,"h":6200},{"s":"PPO loss","x":3.2,"y":5600,"l":5100,"h":6100},{"s":"PPO loss","x":3.5,"y":5500,"l":5000,"h":6000},{"s":"PPO loss","x":3.8,"y":5600,"l":5100,"h":6100},{"s":"PPO loss","x":4.0,"y":5900,"l":5400,"h":6400},{"s":"PPO loss","x":4.3,"y":5800,"l":5300,"h":6300},{"s":"PPO loss","x":4.5,"y":5900,"l":5400,"h":6400},{"s":"PPO loss","x":4.8,"y":5900,"l":5400,"h":6400},
      {"s":"No IS","x":0,"y":250,"l":200,"h":300},{"s":"No IS","x":0.3,"y":150,"l":100,"h":200},{"s":"No IS","x":1.0,"y":150,"l":100,"h":200},{"s":"No IS","x":2.0,"y":150,"l":100,"h":200},{"s":"No IS","x":3.0,"y":150,"l":100,"h":200},{"s":"No IS","x":4.0,"y":150,"l":100,"h":200},{"s":"No IS","x":5.0,"y":150,"l":100,"h":200},
      {"s":"No Twin","x":0,"y":300,"l":200,"h":400},{"s":"No Twin","x":0.3,"y":600,"l":400,"h":800},{"s":"No Twin","x":0.5,"y":1400,"l":1000,"h":1800},{"s":"No Twin","x":0.8,"y":1400,"l":900,"h":1900},{"s":"No Twin","x":1.0,"y":1500,"l":1000,"h":2000},{"s":"No Twin","x":1.2,"y":1400,"l":900,"h":1900},{"s":"No Twin","x":1.5,"y":1500,"l":1000,"h":2000},{"s":"No Twin","x":1.7,"y":1300,"l":800,"h":1800},{"s":"No Twin","x":2.0,"y":1600,"l":1100,"h":2100},{"s":"No Twin","x":2.3,"y":1400,"l":900,"h":1900},{"s":"No Twin","x":2.6,"y":1300,"l":800,"h":1800},{"s":"No Twin","x":2.8,"y":1000,"l":600,"h":1500},{"s":"No Twin","x":3.0,"y":1500,"l":1000,"h":2000},{"s":"No Twin","x":3.3,"y":1300,"l":800,"h":1800},{"s":"No Twin","x":3.5,"y":1400,"l":900,"h":1900},{"s":"No Twin","x":3.8,"y":1300,"l":800,"h":1800},{"s":"No Twin","x":4.2,"y":1400,"l":900,"h":1900},{"s":"No Twin","x":4.6,"y":1300,"l":800,"h":1800},
      {"s":"ϵᵨ = 20","x":0,"y":300,"l":200,"h":400},{"s":"ϵᵨ = 20","x":0.5,"y":600,"l":400,"h":800},{"s":"ϵᵨ = 20","x":1.0,"y":900,"l":500,"h":1300},{"s":"ϵᵨ = 20","x":1.2,"y":1500,"l":900,"h":2100},{"s":"ϵᵨ = 20","x":1.4,"y":2500,"l":1700,"h":3300},{"s":"ϵᵨ = 20","x":1.6,"y":3200,"l":2400,"h":4000},{"s":"ϵᵨ = 20","x":1.8,"y":4000,"l":3200,"h":4800},{"s":"ϵᵨ = 20","x":2.0,"y":4300,"l":3500,"h":5100},{"s":"ϵᵨ = 20","x":2.2,"y":4700,"l":3900,"h":5500},{"s":"ϵᵨ = 20","x":2.4,"y":4400,"l":3600,"h":5200},{"s":"ϵᵨ = 20","x":2.6,"y":5100,"l":4300,"h":5900},{"s":"ϵᵨ = 20","x":2.8,"y":4300,"l":3500,"h":5100},{"s":"ϵᵨ = 20","x":3.0,"y":4800,"l":4000,"h":5600},{"s":"ϵᵨ = 20","x":3.2,"y":5000,"l":4200,"h":5800},{"s":"ϵᵨ = 20","x":3.5,"y":5200,"l":4400,"h":6000},{"s":"ϵᵨ = 20","x":3.8,"y":4900,"l":4100,"h":5700},{"s":"ϵᵨ = 20","x":4.0,"y":5200,"l":4400,"h":6000},{"s":"ϵᵨ = 20","x":4.3,"y":5000,"l":4200,"h":5800},{"s":"ϵᵨ = 20","x":4.5,"y":5300,"l":4500,"h":6100},{"s":"ϵᵨ = 20","x":4.8,"y":5100,"l":4300,"h":5900}
    ]
  },
  "resolve": {"scale": {"color": "independent"}, "legend": {"color": "independent"}},
  "spacing": 7,
  "vconcat": [
    {
      "width": 500, "height": 1,
      "view": {"stroke": null},
      "data": {"name": "legendrows"},
      "mark": {"type": "line", "opacity": 0},
      "encoding": {
        "x": {"field": "x", "type": "quantitative", "axis": null},
        "y": {"field": "y", "type": "quantitative", "axis": null},
        "color": {"field": "s", "type": "nominal", "scale": {"domain": ["Vlearn","SAC","MPO","PPO","TRPL","V-trace"], "range": ["#1f77b4","#ff7f0e","#8c564b","#d62728","#9467bd","#2ca02c"]}, "legend": {"orient": "none", "legendX": 99, "legendY": 0, "direction": "horizontal", "title": null, "symbolType": "M-1.35,0H1.35", "symbolStrokeWidth": 2, "symbolSize": 196, "symbolOpacity": 1, "labelFontSize": 12.5, "labelOffset": 7, "columnPadding": 6}}
      }
    },
    {
      "spacing": 6,
      "resolve": {"scale": {"color": "independent"}, "legend": {"color": "independent"}},
      "vconcat": [
        {
          "hconcat": [
            {
              "title": {"text": "Hopper-v4", "fontSize": 7},
              "width": 123, "height": 105,
              "data": {"name": "hopper"},
              "encoding": {
                "x": {"field": "x", "type": "quantitative", "scale": {"domain": [-0.2, 3.1], "nice": false, "zero": false}, "axis": {"values": [0,1,2,3], "title": "Number Environment Interactions (×10⁶)", "labelFontSize": 6.5, "titleFontSize": 7, "titlePadding": 2}},
                "color": {"field": "s", "type": "nominal", "scale": {"domain": ["Vlearn","SAC","MPO","PPO","TRPL","V-trace"], "range": ["#1f77b4","#ff7f0e","#8c564b","#d62728","#9467bd","#2ca02c"]}, "legend": null}
              },
              "layer": [
                {"mark": {"type": "area", "opacity": 0.22, "clip": true}, "encoding": {"y": {"field": "l", "type": "quantitative", "scale": {"domain": [-220, 3820], "nice": false}, "axis": {"values": [0,1000,2000,3000], "title": "Reward", "labelFontSize": 6.5, "titleFontSize": 7, "titlePadding": 4}}, "y2": {"field": "h"}}},
                {"mark": {"type": "line", "strokeWidth": 1.3, "clip": true}, "encoding": {"y": {"field": "y", "type": "quantitative", "scale": {"domain": [-220, 3820], "nice": false}, "axis": {"values": [0,1000,2000,3000], "title": "Reward", "labelFontSize": 6.5, "titleFontSize": 7, "titlePadding": 4}}}}
              ]
            },
            {
              "title": {"text": "Walker2D-v4", "fontSize": 7},
              "width": 124, "height": 105,
              "data": {"name": "walker"},
              "encoding": {
                "x": {"field": "x", "type": "quantitative", "scale": {"domain": [-0.2, 3.1], "nice": false, "zero": false}, "axis": {"values": [0,1,2,3], "title": "Number Environment Interactions (×10⁶)", "labelFontSize": 6.5, "titleFontSize": 7, "titlePadding": 2}},
                "color": {"field": "s", "type": "nominal", "scale": {"domain": ["Vlearn","SAC","MPO","PPO","TRPL","V-trace"], "range": ["#1f77b4","#ff7f0e","#8c564b","#d62728","#9467bd","#2ca02c"]}, "legend": null}
              },
              "layer": [
                {"mark": {"type": "area", "opacity": 0.22, "clip": true}, "encoding": {"y": {"field": "l", "type": "quantitative", "scale": {"domain": [-235, 5940], "nice": false}, "axis": {"values": [0,2000,4000], "title": "Reward", "labelFontSize": 6.5, "titleFontSize": 7, "titlePadding": 4}}, "y2": {"field": "h"}}},
                {"mark": {"type": "line", "strokeWidth": 1.3, "clip": true}, "encoding": {"y": {"field": "y", "type": "quantitative", "scale": {"domain": [-235, 5940], "nice": false}, "axis": {"values": [0,2000,4000], "title": "Reward", "labelFontSize": 6.5, "titleFontSize": 7, "titlePadding": 4}}}}
              ]
            },
            {
              "title": {"text": "HalfCheetah-v4", "fontSize": 7},
              "width": 121, "height": 105,
              "data": {"name": "cheetah"},
              "encoding": {
                "x": {"field": "x", "type": "quantitative", "scale": {"domain": [-0.21, 3.09], "nice": false, "zero": false}, "axis": {"values": [0,1,2,3], "title": "Number Environment Interactions (×10⁶)", "labelFontSize": 6.5, "titleFontSize": 7, "titlePadding": 2}},
                "color": {"field": "s", "type": "nominal", "scale": {"domain": ["Vlearn","SAC","MPO","PPO","TRPL","V-trace"], "range": ["#1f77b4","#ff7f0e","#8c564b","#d62728","#9467bd","#2ca02c"]}, "legend": null}
              },
              "layer": [
                {"mark": {"type": "area", "opacity": 0.22, "clip": true}, "encoding": {"y": {"field": "l", "type": "quantitative", "scale": {"domain": [-200, 16200], "nice": false}, "axis": {"values": [0,5000,10000,15000], "title": "Reward", "labelFontSize": 6.5, "titleFontSize": 7, "titlePadding": 4}}, "y2": {"field": "h"}}},
                {"mark": {"type": "line", "strokeWidth": 1.3, "clip": true}, "encoding": {"y": {"field": "y", "type": "quantitative", "scale": {"domain": [-200, 16200], "nice": false}, "axis": {"values": [0,5000,10000,15000], "title": "Reward", "labelFontSize": 6.5, "titleFontSize": 7, "titlePadding": 4}}}}
              ]
            },
            {
              "title": {"text": "Ant-v4", "fontSize": 7},
              "width": 122, "height": 105,
              "data": {"name": "ant"},
              "encoding": {
                "x": {"field": "x", "type": "quantitative", "scale": {"domain": [-0.32, 5.26], "nice": false, "zero": false}, "axis": {"values": [0,1,2,3,4,5], "title": "Number Environment Interactions (×10⁶)", "labelFontSize": 6.5, "titleFontSize": 7, "titlePadding": 2}},
                "color": {"field": "s", "type": "nominal", "scale": {"domain": ["Vlearn","SAC","MPO","PPO","TRPL","V-trace"], "range": ["#1f77b4","#ff7f0e","#8c564b","#d62728","#9467bd","#2ca02c"]}, "legend": null}
              },
              "layer": [
                {"mark": {"type": "area", "opacity": 0.22, "clip": true}, "encoding": {"y": {"field": "l", "type": "quantitative", "scale": {"domain": [-260, 7030], "nice": false}, "axis": {"values": [0,2000,4000,6000], "title": "Reward", "labelFontSize": 6.5, "titleFontSize": 7, "titlePadding": 4}}, "y2": {"field": "h"}}},
                {"mark": {"type": "line", "strokeWidth": 1.3, "clip": true}, "encoding": {"y": {"field": "y", "type": "quantitative", "scale": {"domain": [-260, 7030], "nice": false}, "axis": {"values": [0,2000,4000,6000], "title": "Reward", "labelFontSize": 6.5, "titleFontSize": 7, "titlePadding": 4}}}}
              ]
            }
          ],
          "bounds": "flush",
          "spacing": 37,
          "resolve": {"scale": {"color": "independent", "x": "independent", "y": "independent"}, "legend": {"color": "independent"}}
        },
        {
          "hconcat": [
            {
              "width": 1, "height": 1,
              "view": {"stroke": null},
              "data": {"name": "legendrows"},
              "mark": {"type": "line", "opacity": 0},
              "encoding": {
                "x": {"field": "x", "type": "quantitative", "axis": null},
                "y": {"field": "y", "type": "quantitative", "axis": null}
              }
            },
            {
              "hconcat": [
                {
                  "title": {"text": "Humanoid-v4", "fontSize": 9},
                  "width": 164, "height": 139,
                  "data": {"name": "humanoid"},
                  "encoding": {
                    "x": {"field": "x", "type": "quantitative", "scale": {"domain": [-0.53, 5.54], "nice": false, "zero": false}, "axis": {"values": [0,1,2,3,4,5], "title": "Number Environment Interactions (×10⁶)", "labelFontSize": 8.5, "titleFontSize": 9, "titlePadding": 2}},
                    "color": {"field": "s", "type": "nominal", "scale": {"domain": ["Vlearn","SAC","MPO","PPO","TRPL","V-trace"], "range": ["#1f77b4","#ff7f0e","#8c564b","#d62728","#9467bd","#2ca02c"]}, "legend": null}
                  },
                  "layer": [
                    {"mark": {"type": "area", "opacity": 0.22, "clip": true}, "encoding": {"y": {"field": "l", "type": "quantitative", "scale": {"domain": [-525, 9900], "nice": false}, "axis": {"values": [0,2000,4000,6000,8000], "title": "Reward", "labelFontSize": 8.5, "titleFontSize": 9, "titlePadding": 4}}, "y2": {"field": "h"}}},
                    {"mark": {"type": "line", "strokeWidth": 1.4, "clip": true}, "encoding": {"y": {"field": "y", "type": "quantitative", "scale": {"domain": [-525, 9900], "nice": false}, "axis": {"values": [0,2000,4000,6000,8000], "title": "Reward", "labelFontSize": 8.5, "titleFontSize": 9, "titlePadding": 4}}}}
                  ]
                },
                {
                  "title": {"text": "Humanoid-v4 - Buffer size", "fontSize": 9},
                  "width": 164, "height": 139,
                  "data": {"name": "buffer"},
                  "encoding": {
                    "x": {"field": "x", "type": "quantitative", "scale": {"domain": [-0.31, 5.57], "nice": false, "zero": false}, "axis": {"values": [0,1,2,3,4,5], "title": "Number Environment Interactions (×10⁶)", "labelFontSize": 8.5, "titleFontSize": 9, "titlePadding": 2}},
                    "color": {"field": "s", "type": "nominal", "scale": {"domain": ["2e3","1e4","5e4","1e5","2.5e5","5e5","1e6"], "range": ["#2b7bba","#e69a2e","#2ca97c","#e8772a","#d890d8","#dcb38a","#8c5e50"]}, "legend": {"orient": "bottom-right", "offset": 5, "title": null, "symbolType": "M-1.35,0H1.35", "symbolStrokeWidth": 1.6, "symbolSize": 81, "symbolOpacity": 1, "labelFontSize": 8.5, "labelOffset": 7, "rowPadding": 1.4, "clipHeight": 9, "padding": 3, "fillColor": "rgba(255,255,255,0.85)", "strokeColor": "#cccccc", "cornerRadius": 3}}
                  },
                  "layer": [
                    {"mark": {"type": "area", "opacity": 0.22, "clip": true}, "encoding": {"y": {"field": "l", "type": "quantitative", "scale": {"domain": [-525, 9900], "nice": false}, "axis": {"values": [0,2000,4000,6000,8000], "title": "Reward", "labelFontSize": 8.5, "titleFontSize": 9, "titlePadding": 4}}, "y2": {"field": "h"}}},
                    {"mark": {"type": "line", "strokeWidth": 1.4, "clip": true}, "encoding": {"y": {"field": "y", "type": "quantitative", "scale": {"domain": [-525, 9900], "nice": false}, "axis": {"values": [0,2000,4000,6000,8000], "title": "Reward", "labelFontSize": 8.5, "titleFontSize": 9, "titlePadding": 4}}}}
                  ]
                },
                {
                  "title": {"text": "Humanoid-v4 - Components", "fontSize": 9},
                  "width": 164, "height": 139,
                  "data": {"name": "components"},
                  "encoding": {
                    "x": {"field": "x", "type": "quantitative", "scale": {"domain": [-0.52, 5.56], "nice": false, "zero": false}, "axis": {"values": [0,1,2,3,4,5], "title": "Number Environment Interactions (×10⁶)", "labelFontSize": 8.5, "titleFontSize": 9, "titlePadding": 2}},
                    "color": {"field": "s", "type": "nominal", "scale": {"domain": ["Vlearn","V-trace","PPO loss","No IS","No Twin","ϵᵨ = 20"], "range": ["#1f77b4","#2ca02c","#e8494a","#ff9a2e","#9b67d0","#8a8a8a"]}, "legend": {"orient": "bottom-right", "offset": 5, "title": null, "symbolType": "M-1.35,0H1.35", "symbolStrokeWidth": 1.6, "symbolSize": 81, "symbolOpacity": 1, "labelFontSize": 9, "labelOffset": 7, "rowPadding": 1.6, "clipHeight": 9, "padding": 3, "fillColor": "rgba(255,255,255,0.85)", "strokeColor": "#cccccc", "cornerRadius": 3}}
                  },
                  "layer": [
                    {"mark": {"type": "area", "opacity": 0.22, "clip": true}, "encoding": {"y": {"field": "l", "type": "quantitative", "scale": {"domain": [-525, 9900], "nice": false}, "axis": {"values": [0,2000,4000,6000,8000], "title": "Reward", "labelFontSize": 8.5, "titleFontSize": 9, "titlePadding": 4}}, "y2": {"field": "h"}}},
                    {"mark": {"type": "line", "strokeWidth": 1.4, "clip": true}, "encoding": {"y": {"field": "y", "type": "quantitative", "scale": {"domain": [-525, 9900], "nice": false}, "axis": {"values": [0,2000,4000,6000,8000], "title": "Reward", "labelFontSize": 8.5, "titleFontSize": 9, "titlePadding": 4}}}}
                  ]
                }
              ],
              "bounds": "flush",
              "spacing": 53,
              "resolve": {"scale": {"color": "independent", "x": "independent", "y": "independent"}, "legend": {"color": "independent"}}
            }
          ],
          "bounds": "flush",
          "spacing": 5,
          "resolve": {"scale": {"color": "independent", "x": "independent", "y": "independent"}, "legend": {"color": "independent"}}
        }
      ]
    }
  ]
}
